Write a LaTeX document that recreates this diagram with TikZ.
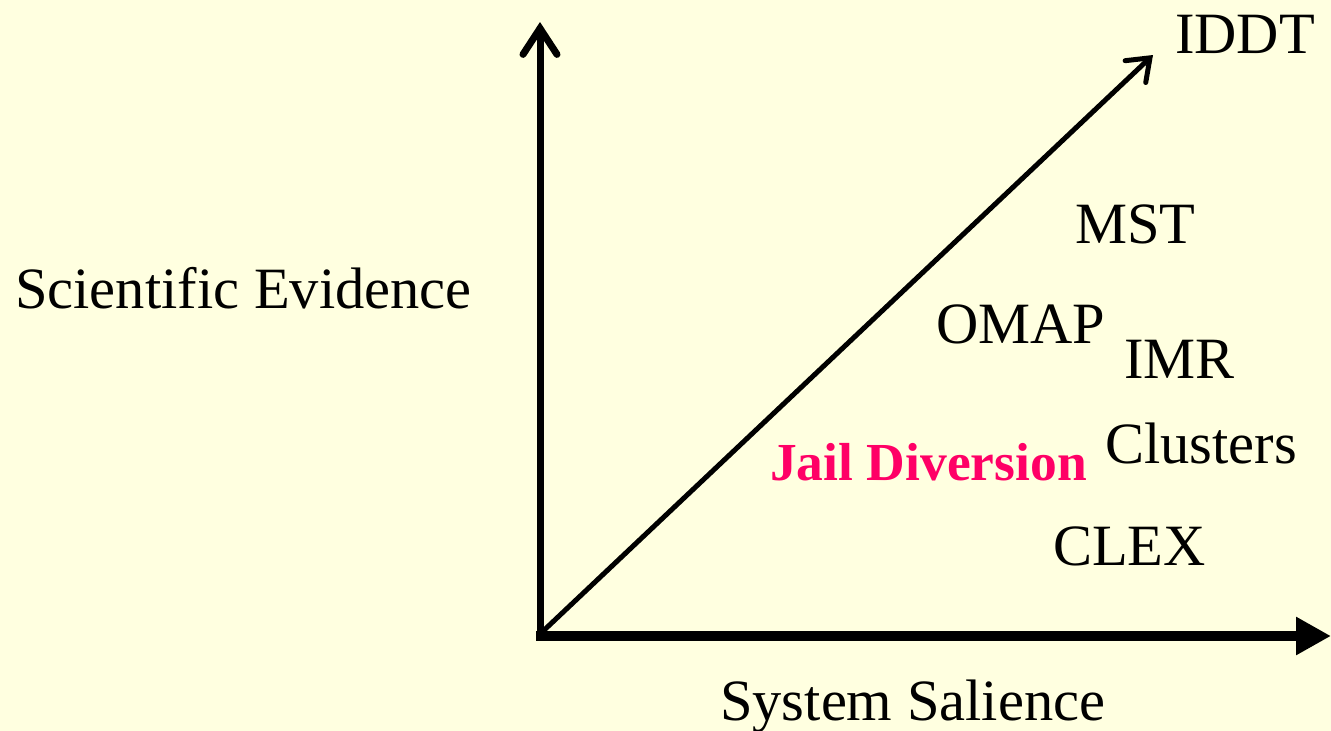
\documentclass[tikz,border=0pt]{standalone}
\usepackage{fontspec}
\setmainfont{Liberation Serif}
\usetikzlibrary{arrows.meta}
\definecolor{bgyellow}{HTML}{FFFFE0}
\definecolor{jailpink}{HTML}{FF0066}
\begin{document}
\begin{tikzpicture}[x=1pt,y=-1pt,
  lbl/.style={inner sep=0pt,anchor=base west,font=\fontsize{58.5}{66}\selectfont}]
\fill[bgyellow] (0,0) rectangle (1331,731);
\useasboundingbox (0,0) rectangle (1331,731);
\coordinate (o) at (540,634);
\coordinate (ytip) at (540,22);
\coordinate (xtip) at (1331,636);
\coordinate (dtip) at (1153,55);
\coordinate (xo) at (536,636);
\draw[line width=10pt,-{Triangle[length=35pt,width=36pt]}] (xo) -- (xtip);
\draw[line width=7pt,-{Straight Barb[length=26pt,width=34pt,line cap=round]}] (o) -- (ytip);
\draw[line width=5pt,-{Straight Barb[length=20pt,width=30pt,line cap=round]}] (o) -- (dtip);
\node[lbl] (iddt) at (1175,53) {IDDT};
\node[lbl] (mst) at (1075,243) {MST};
\node[lbl] (omap) at (936,343) {OMAP};
\node[lbl] (imr) at (1124,378) {IMR};
\node[lbl] (clusters) at (1105,463) {Clusters};
\node[lbl,text=jailpink,font=\fontsize{53.5}{60}\selectfont\bfseries] (jail) at (770,480) {Jail Diversion};
\node[lbl] (clex) at (1053,565) {CLEX};
\node[lbl] (sci) at (15,308) {Scientific Evidence};
\node[lbl] (sys) at (720,720) {System Salience};
\end{tikzpicture}
\end{document}
